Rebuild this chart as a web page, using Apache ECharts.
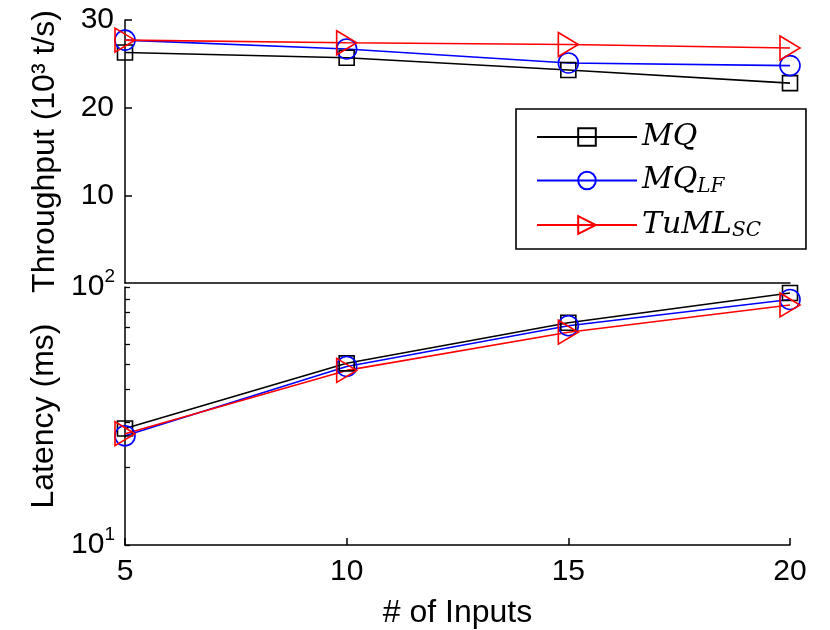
<!DOCTYPE html>
<html>
<head>
<meta charset="utf-8">
<script src="https://cdn.jsdelivr.net/npm/echarts@6/dist/echarts.min.js"></script>
<style>
html,body{margin:0;padding:0;background:#fff;}
#pic{width:830px;height:630px;}
</style>
</head>
<body>
<div id="pic"></div>
<script>
var inputs = [5, 10, 15, 20];
var thrMQ = [26.3, 25.7, 24.3, 22.8];
var thrMQLF = [27.7, 26.7, 25.1, 24.8];
var thrTuML = [27.7, 27.4, 27.2, 26.8];
var latMQ = [28.3, 50.6, 72.7, 94.8];
var latMQLF = [26.5, 49.2, 70.8, 89.5];
var latTuML = [27.0, 47.5, 66.8, 85.2];
var latTicks = [10, 20, 30, 40, 50, 60, 70, 80, 90, 100];
var seriesNames = ['MQ', 'MQLF', 'TuMLSC'];
var legendText = {
  'MQ': '{m|MQ}',
  'MQLF': '{m|MQ}{s|LF}',
  'TuMLSC': '{m|TuML}{s|SC}'
};

var chart = echarts.init(document.getElementById('pic'));
var tri = 'path://M0,0 L10,6 L0,12 Z';

function pts(ys) {
  var out = [];
  for (var i = 0; i < inputs.length; i++) out.push([inputs[i], ys[i]]);
  return out;
}

function line(name, color, symbol, size, idx, ys) {
  return {
    name: name,
    type: 'line',
    xAxisIndex: idx,
    yAxisIndex: idx,
    data: pts(ys),
    symbol: symbol,
    symbolSize: size,
    symbolKeepAspect: true,
    showAllSymbol: true,
    lineStyle: {color: color, width: 1.6},
    itemStyle: {color: 'rgba(0,0,0,0)', borderColor: color, borderWidth: 1.6},
    emphasis: {disabled: true},
    animation: false
  };
}

var blackLine = {lineStyle: {color: '#000', width: 1.5}};

var option = {
  backgroundColor: '#fff',
  grid: [
    {left: 125, top: 20, width: 665, height: 263},
    {left: 125, top: 287, width: 665, height: 260}
  ],
  xAxis: [
    {
      gridIndex: 0, type: 'value', min: 5, max: 20, interval: 5,
      axisLine: blackLine, axisTick: {show: false}, axisLabel: {show: false},
      splitLine: {show: false}
    },
    {
      gridIndex: 1, type: 'value', min: 5, max: 20, interval: 5,
      axisLine: blackLine,
      axisTick: {show: true, inside: true, length: 7, lineStyle: {color: '#000', width: 1.5}},
      axisLabel: {color: '#000', fontSize: 30, fontFamily: 'Liberation Sans', margin: 12},
      splitLine: {show: false},
      name: '# of Inputs', nameLocation: 'middle', nameGap: 52,
      nameTextStyle: {color: '#000', fontSize: 32, fontFamily: 'Liberation Sans'}
    }
  ],
  yAxis: [
    {
      gridIndex: 0, type: 'value', min: 0, max: 30, interval: 10,
      axisLine: {show: true, lineStyle: {color: '#000', width: 1.5}},
      axisTick: {show: true, inside: true, length: 7, lineStyle: {color: '#000', width: 1.5}},
      axisLabel: {color: '#000', fontSize: 30, fontFamily: 'Liberation Sans', margin: 11, showMinLabel: false},
      splitLine: {show: false},
      name: 'Throughput (10³ t/s)', nameLocation: 'middle', nameGap: 64,
      nameTextStyle: {color: '#000', fontSize: 32, fontFamily: 'Liberation Sans'}
    },
    {
      gridIndex: 1, type: 'log', logBase: 10, min: 10, max: 100,
      axisLine: {show: true, lineStyle: {color: '#000', width: 1.5}},
      axisTick: {show: true, inside: true, length: 5, customValues: latTicks, lineStyle: {color: '#000', width: 1.3}},
      axisLabel: {
        margin: 10,
        formatter: function (v) {
          return '{b|10}{p|' + Math.round(Math.log(v) / Math.LN10) + '}';
        },
        rich: {
          b: {color: '#000', fontSize: 30, fontFamily: 'Liberation Sans', lineHeight: 32},
          p: {color: '#000', fontSize: 19, fontFamily: 'Liberation Sans', verticalAlign: 'top', lineHeight: 40}
        }
      },
      splitLine: {show: false},
      name: 'Latency (ms)', nameLocation: 'middle', nameGap: 64,
      nameTextStyle: {color: '#000', fontSize: 32, fontFamily: 'Liberation Sans'}
    }
  ],
  legend: {
    orient: 'vertical',
    left: 516,
    top: 109,
    data: seriesNames,
    selectedMode: false,
    padding: [13, 45, 8, 20],
    itemGap: 13.5,
    itemWidth: 100,
    itemHeight: 22,
    itemTextGap: 10,
    borderColor: '#000',
    borderWidth: 1.6,
    backgroundColor: '#fff',
    formatter: function (name) { return legendText[name]; },
    textStyle: {
      rich: {
        m: {color: '#000', fontSize: 30, fontFamily: 'DejaVu Serif', fontStyle: 'italic', lineHeight: 32},
        s: {color: '#000', fontSize: 20, fontFamily: 'DejaVu Serif', fontStyle: 'italic', verticalAlign: 'bottom', lineHeight: 14}
      }
    }
  },
  series: [
    line('MQ', '#000000', 'rect', 15, 0, thrMQ),
    line('MQLF', '#0000ff', 'circle', 20, 0, thrMQLF),
    line('TuMLSC', '#ff0000', tri, 24, 0, thrTuML),
    line('MQ', '#000000', 'rect', 15, 1, latMQ),
    line('MQLF', '#0000ff', 'circle', 20, 1, latMQLF),
    line('TuMLSC', '#ff0000', tri, 24, 1, latTuML)
  ]
};
chart.setOption(option);
</script>
</body>
</html>
